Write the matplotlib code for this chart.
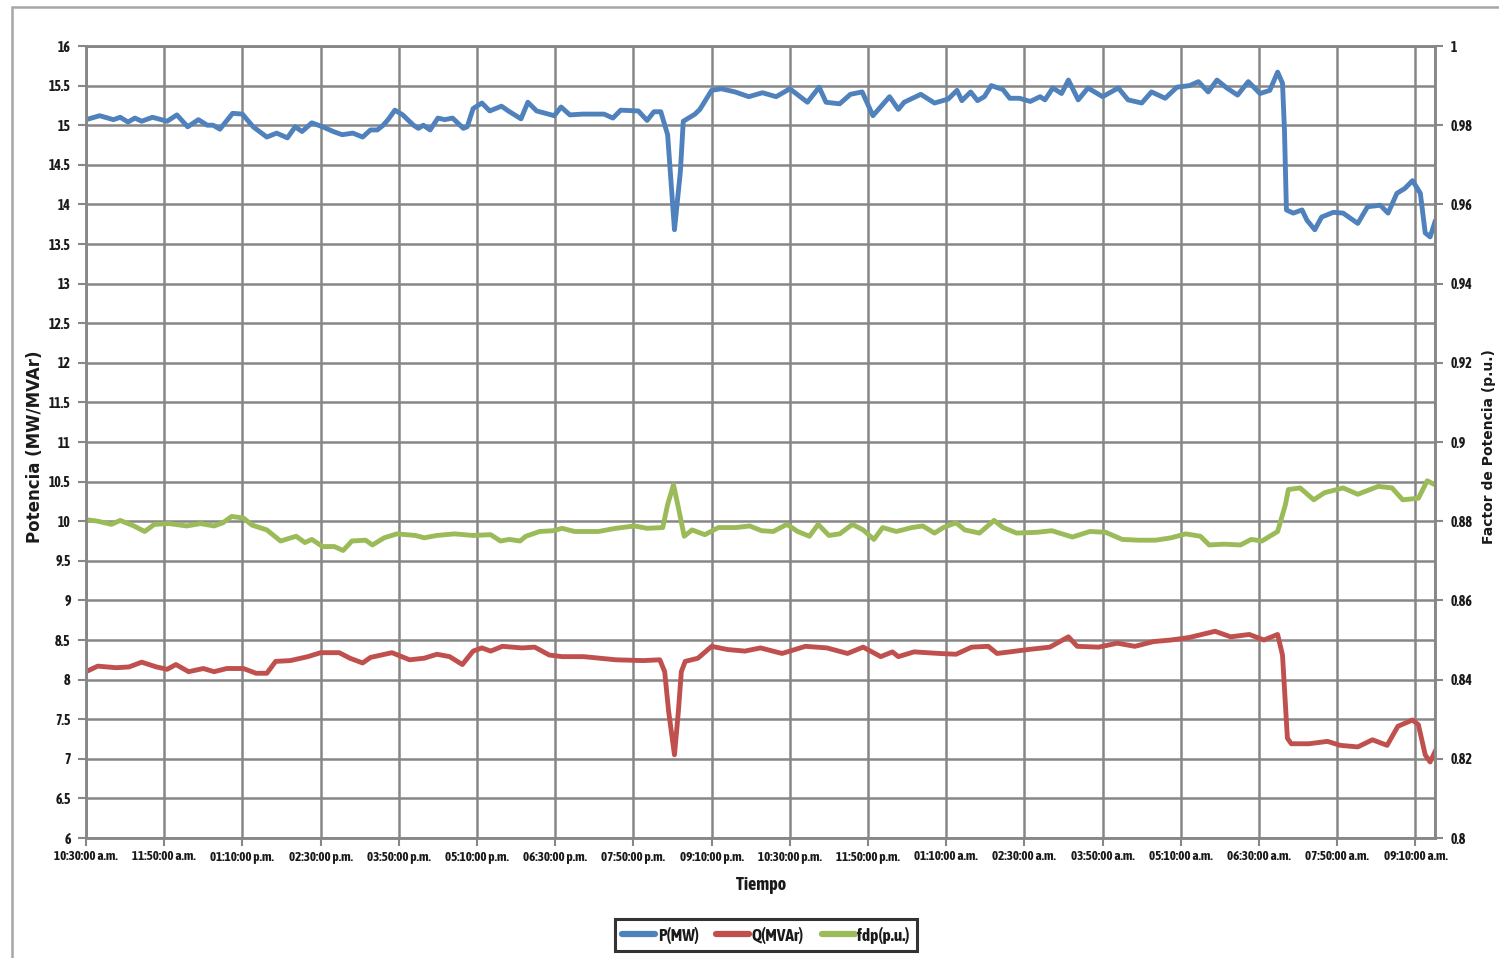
import matplotlib
matplotlib.use("Agg")
import matplotlib.pyplot as plt
from matplotlib.patches import Rectangle
from matplotlib.lines import Line2D

# ---------------- data (minutes after 10:30:00 a.m.) ----------------
p_time = [0, 14, 28, 35, 43, 50, 57, 68, 83, 93, 104, 115, 124, 130, 137, 150, 160, 171,
          185, 195, 206, 214, 221, 231, 242, 253, 262, 273, 283, 291, 298, 304, 309, 316,
          324, 335, 340, 345, 352, 360, 367, 375, 386, 390, 396, 405, 413, 425, 432, 445,
          452, 461, 479, 486, 495, 508, 530, 539, 547, 565, 574, 581, 588, 595, 602, 608,
          611, 623, 628, 640, 650, 664, 678, 692, 706, 720, 738, 750, 757, 771, 782, 794,
          805, 822, 831, 837, 854, 868, 882, 891, 896, 905, 912, 919, 926, 938, 945, 955,
          966, 976, 981, 989, 998, 1005, 1015, 1025, 1040, 1056, 1066, 1080, 1090, 1104,
          1116, 1129, 1138, 1148, 1157, 1167, 1178, 1189, 1201, 1211, 1219, 1224, 1226,
          1228, 1235, 1244, 1249, 1257, 1264, 1276, 1286, 1301, 1311, 1324, 1332, 1341,
          1349, 1357, 1365, 1370, 1375, 1380]
p_mw = [15.07, 15.12, 15.07, 15.10, 15.04, 15.09, 15.05, 15.10, 15.05, 15.13, 14.98, 15.07,
        15.00, 15.00, 14.95, 15.15, 15.14, 14.98, 14.85, 14.90, 14.84, 14.98, 14.92, 15.03,
        14.98, 14.92, 14.88, 14.90, 14.85, 14.94, 14.94, 15.00, 15.07, 15.19, 15.13, 15.00,
        14.96, 15.00, 14.94, 15.09, 15.07, 15.09, 14.96, 14.98, 15.21, 15.28, 15.18, 15.24,
        15.18, 15.08, 15.29, 15.18, 15.12, 15.23, 15.13, 15.14, 15.14, 15.09, 15.19, 15.18,
        15.06, 15.17, 15.17, 14.88, 13.68, 14.41, 15.05, 15.14, 15.20, 15.44, 15.46, 15.42,
        15.36, 15.41, 15.36, 15.46, 15.29, 15.48, 15.29, 15.27, 15.39, 15.42, 15.12, 15.36,
        15.20, 15.29, 15.39, 15.28, 15.33, 15.44, 15.31, 15.42, 15.31, 15.36, 15.50, 15.45,
        15.34, 15.34, 15.30, 15.36, 15.32, 15.47, 15.40, 15.57, 15.32, 15.47, 15.36, 15.47,
        15.32, 15.28, 15.42, 15.34, 15.48, 15.50, 15.55, 15.42, 15.57, 15.47, 15.38, 15.55,
        15.40, 15.44, 15.67, 15.53, 14.94, 13.93, 13.89, 13.93, 13.80, 13.68, 13.84, 13.90,
        13.89, 13.76, 13.97, 13.99, 13.89, 14.14, 14.20, 14.30, 14.14, 13.64, 13.59, 13.78]

q_time = [0, 12, 31, 44, 57, 72, 83, 92, 105, 120, 131, 144, 161, 174, 185, 194, 209, 227,
          240, 259, 270, 283, 291, 313, 331, 346, 359, 372, 385, 396, 405, 414, 426, 446,
          459, 474, 487, 509, 542, 570, 587, 592, 596, 602, 606, 609, 613, 626, 640, 656,
          674, 690, 712, 736, 758, 779, 795, 813, 825, 831, 847, 873, 890, 906, 923, 932,
          945, 964, 986, 1005, 1014, 1036, 1055, 1073, 1092, 1110, 1128, 1155, 1171, 1190,
          1205, 1219, 1224, 1229, 1233, 1251, 1270, 1283, 1301, 1316, 1331, 1342, 1357,
          1363, 1370, 1375, 1380]
q_mvar = [8.10, 8.17, 8.15, 8.16, 8.22, 8.16, 8.13, 8.19, 8.10, 8.14, 8.10, 8.14, 8.14,
          8.08, 8.08, 8.23, 8.24, 8.29, 8.34, 8.34, 8.27, 8.21, 8.28, 8.34, 8.25, 8.27,
          8.32, 8.29, 8.19, 8.36, 8.40, 8.36, 8.42, 8.40, 8.41, 8.31, 8.29, 8.29, 8.25,
          8.24, 8.25, 8.10, 7.60, 7.05, 7.60, 8.10, 8.23, 8.27, 8.42, 8.38, 8.36, 8.40,
          8.33, 8.42, 8.40, 8.33, 8.41, 8.29, 8.35, 8.29, 8.35, 8.33, 8.32, 8.41, 8.42,
          8.33, 8.35, 8.38, 8.41, 8.54, 8.42, 8.41, 8.46, 8.42, 8.48, 8.50, 8.53, 8.61,
          8.54, 8.57, 8.50, 8.57, 8.31, 7.26, 7.19, 7.19, 7.22, 7.17, 7.15, 7.24, 7.17,
          7.41, 7.49, 7.43, 7.05, 6.96, 7.09]

f_time = [0, 12, 26, 35, 49, 60, 70, 85, 103, 117, 131, 140, 149, 161, 170, 185, 199, 215,
          224, 231, 242, 254, 263, 272, 286, 293, 305, 318, 337, 346, 359, 377, 396, 414,
          424, 433, 444, 450, 464, 478, 487, 500, 524, 542, 561, 574, 590, 595, 601, 606,
          612, 620, 633, 647, 665, 679, 691, 703, 717, 728, 740, 749, 760, 771, 784, 795,
          806, 815, 829, 845, 856, 868, 877, 890, 899, 914, 929, 938, 952, 973, 988, 1009,
          1027, 1043, 1060, 1077, 1094, 1110, 1125, 1140, 1149, 1164, 1181, 1192, 1203,
          1219, 1227, 1230, 1242, 1256, 1267, 1286, 1301, 1322, 1336, 1347, 1363, 1372, 1380]
f_pu = [0.8804, 0.8800, 0.8792, 0.8802, 0.8788, 0.8774, 0.8792, 0.8794, 0.8788, 0.8794,
        0.8788, 0.8796, 0.8812, 0.8808, 0.8790, 0.8778, 0.8750, 0.8762, 0.8746, 0.8754,
        0.8736, 0.8736, 0.8726, 0.8750, 0.8752, 0.8740, 0.8758, 0.8768, 0.8764, 0.8758,
        0.8764, 0.8768, 0.8764, 0.8766, 0.8750, 0.8754, 0.8750, 0.8762, 0.8774, 0.8776,
        0.8782, 0.8774, 0.8774, 0.8782, 0.8788, 0.8782, 0.8784, 0.8842, 0.8892, 0.8834,
        0.8762, 0.8778, 0.8766, 0.8784, 0.8784, 0.8788, 0.8776, 0.8774, 0.8792, 0.8774,
        0.8762, 0.8792, 0.8764, 0.8768, 0.8792, 0.8778, 0.8754, 0.8784, 0.8774, 0.8784,
        0.8788, 0.8770, 0.8784, 0.8796, 0.8778, 0.8770, 0.8802, 0.8784, 0.8770, 0.8772,
        0.8776, 0.8760, 0.8774, 0.8772, 0.8754, 0.8752, 0.8752, 0.8758, 0.8768, 0.8762,
        0.8740, 0.8742, 0.8740, 0.8754, 0.8750, 0.8774, 0.8842, 0.8880, 0.8884, 0.8854,
        0.8872, 0.8884, 0.8868, 0.8888, 0.8884, 0.8854, 0.8858, 0.8902, 0.8892]

x_tick_minutes = [0, 80, 160, 240, 320, 400, 480, 560, 640, 720, 800, 880, 960, 1040,
                  1120, 1200, 1280, 1360]
x_tick_labels = ["10:30:00 a.m.", "11:50:00 a.m.", "01:10:00 p.m.", "02:30:00 p.m.",
                 "03:50:00 p.m.", "05:10:00 p.m.", "06:30:00 p.m.", "07:50:00 p.m.",
                 "09:10:00 p.m.", "10:30:00 p.m.", "11:50:00 p.m.", "01:10:00 a.m.",
                 "02:30:00 a.m.", "03:50:00 a.m.", "05:10:00 a.m.", "06:30:00 a.m.",
                 "07:50:00 a.m.", "09:10:00 a.m."]
left_ticks = [6, 6.5, 7, 7.5, 8, 8.5, 9, 9.5, 10, 10.5, 11, 11.5, 12, 12.5, 13, 13.5,
              14, 14.5, 15, 15.5, 16]
right_ticks = [0.8, 0.82, 0.84, 0.86, 0.88, 0.9, 0.92, 0.94, 0.96, 0.98, 1.0]

series_names = ["P(MW)", "Q(MVAr)", "fdp(p.u.)"]

# ---------------- styling ----------------
C_P = "#4F81BD"
C_Q = "#C0504D"
C_F = "#9BBB59"
GRID = "#878787"
NARROW = ["Asap Condensed", "Archivo Narrow", "DejaVu Sans"]
WIDE = ["DejaVu Sans"]
TXT = "#1a1a1a"

fig = plt.figure(figsize=(14.99, 9.58), dpi=100)
fig.patch.set_facecolor("white")

# outer frame (partially visible)
fig.patches.append(Rectangle((12 / 1499, -0.05), 1.2, 1 - 7 / 958 + 0.05,
                             transform=fig.transFigure, fill=False,
                             edgecolor="#a6a6a6", linewidth=1.8))

L, R, T, B = 86 / 1499, 1435 / 1499, 1 - 46 / 958, 1 - 838 / 958
ax = fig.add_axes([L, B, R - L, T - B])
ax2 = ax.twinx()

ax.set_xlim(0, 1380)
ax.set_ylim(6, 16)
ax2.set_ylim(0.8, 1.0)

ax.set_xticks(x_tick_minutes)
ax.set_xticklabels(x_tick_labels, fontfamily=NARROW, fontsize=9.5, fontweight="bold", color=TXT)
ax.set_yticks(left_ticks)
ax.set_yticklabels([f"{v:g}" for v in left_ticks], fontfamily=NARROW, fontsize=10,
                   fontweight="bold", color=TXT)
ax2.set_yticks(right_ticks)
ax2.set_yticklabels([f"{v:g}" for v in right_ticks], fontfamily=NARROW, fontsize=10,
                    fontweight="bold", color=TXT)

ax.grid(True, color=GRID, linewidth=1.8)
ax.axvline(1380, color=GRID, linewidth=1.8)
for a in (ax, ax2):
    for s in a.spines.values():
        s.set_color(GRID)
        s.set_linewidth(1.8)
    a.tick_params(length=6, width=1.5, color=GRID, pad=3)
ax.tick_params(axis="y", length=6, pad=5)
ax2.tick_params(axis="y", length=6, pad=5)

ax.plot(p_time, p_mw, color=C_P, linewidth=3.5, solid_joinstyle="round")
ax.plot(q_time, q_mvar, color=C_Q, linewidth=3.5, solid_joinstyle="round")
ax2.plot(f_time, f_pu, color=C_F, linewidth=3.5, solid_joinstyle="round")

fig.text(35 / 1499, 1 - 447 / 958, "Potencia (MW/MVAr)", rotation=90, ha="center",
         va="center", fontfamily=WIDE, fontsize=12, fontweight="bold", color=TXT)
fig.text(1489 / 1499, 1 - 447 / 958, "Factor de Potencia (p.u.)", rotation=90, ha="center",
         va="center", fontfamily=WIDE, fontsize=10, fontweight="bold", color=TXT)
fig.text(761 / 1499, 1 - 885 / 958, "Tiempo", ha="center", va="center",
         fontfamily=NARROW, fontsize=13, fontweight="bold", color=TXT)

handles = [Line2D([0], [0], color=c, linewidth=4.5, solid_capstyle="round")
           for c in (C_P, C_Q, C_F)]
leg = fig.legend(handles, series_names, loc="center", bbox_to_anchor=(766 / 1499, 1 - 935 / 958),
                 ncol=3, frameon=True, fancybox=False, handlelength=1.9, handletextpad=0.15,
                 columnspacing=1.0, borderpad=0.45,
                 prop={"family": NARROW, "size": 12.5, "weight": "bold"})
leg.get_frame().set_edgecolor("black")
leg.get_frame().set_linewidth(2.2)
for t in leg.get_texts():
    t.set_color(TXT)

fig.savefig("out.png", dpi=100, facecolor="white")
